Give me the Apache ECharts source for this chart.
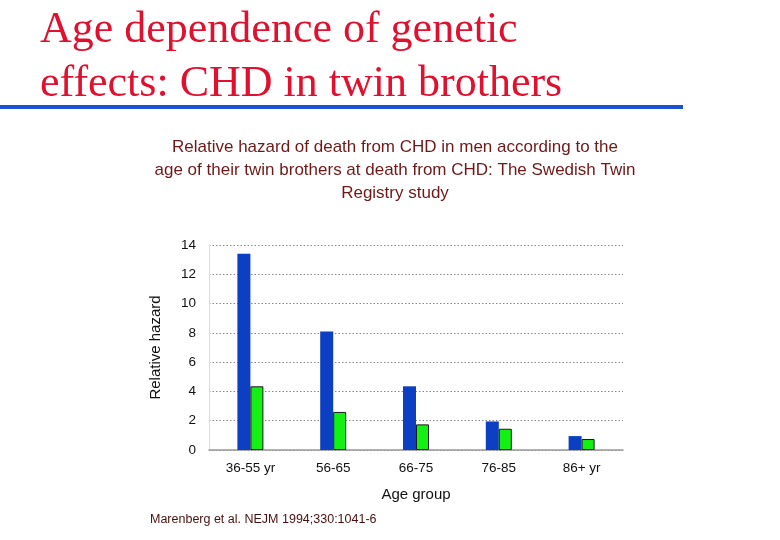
<!DOCTYPE html>
<html><head><meta charset="utf-8">
<script src="https://cdn.jsdelivr.net/npm/echarts@6/dist/echarts.min.js"></script>
<style>html,body{margin:0;padding:0;background:#fff}#c{width:780px;height:540px}</style>
</head><body><div id="c"></div>
<script>
const categories = ['36-55 yr', '56-65', '66-75', '76-85', '86+ yr'];
const twinValues = [13.4, 8.1, 4.35, 1.95, 0.95];
const otherValues = [4.35, 2.6, 1.75, 1.45, 0.75];
const yTicks = [0, 2, 4, 6, 8, 10, 12, 14];

const chart = echarts.init(document.getElementById('c'), null, {renderer: 'canvas'});
chart.setOption({
  backgroundColor: '#fff',
  animation: false,
  title: [
    {text: 'Age dependence of genetic\neffects: CHD in twin brothers', left: 35, top: -2,
     textStyle: {fontFamily: 'Liberation Serif', fontSize: 44, fontWeight: 'normal', color: '#e0102e', lineHeight: 54}},
    {text: 'Relative hazard of death from CHD in men according to the\nage of their twin brothers at death from CHD: The Swedish Twin\nRegistry study',
     left: 390, textAlign: 'center', top: 131,
     textStyle: {fontFamily: 'Liberation Sans', fontSize: 17, fontWeight: 'normal', color: '#6e1818', lineHeight: 23}},
    {text: 'Marenberg et al. NEJM 1994;330:1041-6', left: 145, top: 508,
     textStyle: {fontFamily: 'Liberation Sans', fontSize: 12.5, fontWeight: 'normal', color: '#4a1010'}}
  ],
  graphic: [
    {type: 'rect', shape: {x: 0, y: 105, width: 683, height: 4}, style: {fill: '#1a52d6'}}
  ],
  grid: {left: 209, right: 157, top: 245, bottom: 90, containLabel: false},
  xAxis: {
    type: 'category', data: categories,
    name: 'Age group', nameLocation: 'middle', nameGap: 37,
    nameTextStyle: {fontFamily: 'Liberation Sans', fontSize: 15, color: '#111'},
    axisLine: {lineStyle: {color: '#999', width: 1.5}},
    axisTick: {show: false},
    axisLabel: {fontFamily: 'Liberation Sans', fontSize: 13.5, color: '#111', margin: 11}
  },
  yAxis: {
    type: 'value', min: 0, max: 14, interval: 2,
    name: 'Relative hazard', nameLocation: 'middle', nameGap: 46, nameRotate: 90,
    nameTextStyle: {fontFamily: 'Liberation Sans', fontSize: 15, color: '#111'},
    axisLine: {show: true, lineStyle: {color: '#ddd'}},
    axisTick: {show: false},
    axisLabel: {fontFamily: 'Liberation Sans', fontSize: 13.5, color: '#111', margin: 13,
      formatter: v => yTicks.includes(v) ? String(v) : ''},
    splitLine: {lineStyle: {color: '#888', type: [1.5, 2], width: 1}}
  },
  series: [
    {type: 'bar', data: twinValues, barWidth: 13, barGap: '0%',
     itemStyle: {color: '#0d3fc2'}},
    {type: 'bar', data: otherValues, barWidth: 13,
     itemStyle: {color: '#14f014', borderColor: '#1a1a1a', borderWidth: 1}}
  ]
});
</script></body></html>
